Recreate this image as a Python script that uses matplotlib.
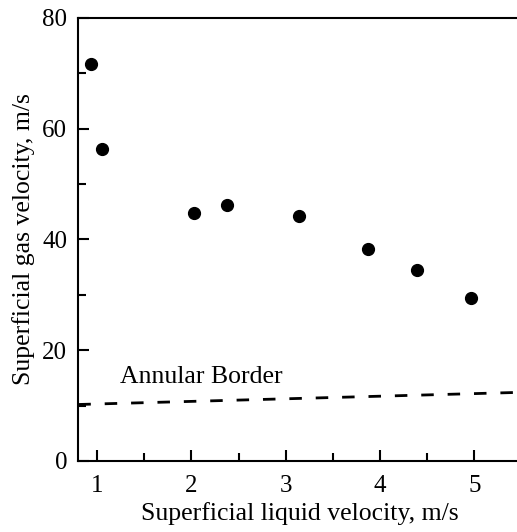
import matplotlib
matplotlib.use("Agg")
import matplotlib.pyplot as plt
from matplotlib.ticker import MultipleLocator

liquid_velocity = [0.93, 1.05, 2.03, 2.38, 3.14, 3.87, 4.39, 4.97]
gas_velocity = [71.7, 56.3, 44.7, 46.2, 44.2, 38.2, 34.5, 29.5]
border_x = [0.8, 5.5]
border_y = [10.2, 12.4]

plt.rcParams['font.family'] = ['Liberation Serif', 'DejaVu Serif']

fig = plt.figure(figsize=(5.17, 5.32), dpi=100)
ax = fig.add_axes([0.1515, 0.1335, 0.857, 0.8327])

ax.plot(liquid_velocity, gas_velocity, 'o', color='black', markersize=8.5, zorder=3)
ax.plot(border_x, border_y, color='black', linewidth=2, dashes=(4.5, 5))
ax.text(1.24, 14.0, 'Annular Border', fontsize=18.5, va='baseline', ha='left')

ax.set_xlim(0.8, 5.5)
ax.set_ylim(0, 80)
ax.xaxis.set_major_locator(MultipleLocator(1))
ax.xaxis.set_minor_locator(MultipleLocator(0.5))
ax.yaxis.set_major_locator(MultipleLocator(20))
ax.yaxis.set_minor_locator(MultipleLocator(10))
ax.tick_params(which='both', direction='in', width=1.5, labelsize=18, top=False, right=False)
ax.tick_params(which='major', length=8)
ax.tick_params(which='minor', length=5.5)
ax.tick_params(axis='x', pad=10)
ax.tick_params(axis='y', pad=8)
for s in ['left', 'bottom', 'top']:
    ax.spines[s].set_linewidth(1.5)
ax.spines['right'].set_visible(False)

ax.set_xlabel('Superficial liquid velocity, m/s', fontsize=18.5, labelpad=4)
ax.set_ylabel('Superficial gas velocity, m/s', fontsize=18.5, labelpad=5)

fig.savefig('out.png', dpi=100)
